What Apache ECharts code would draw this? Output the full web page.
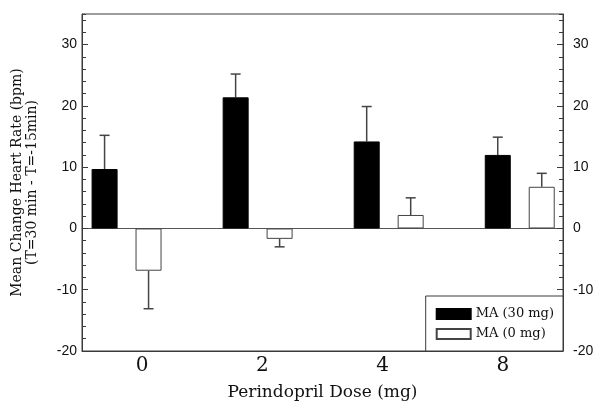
<!DOCTYPE html>
<html>
<head>
<meta charset="utf-8">
<script src="https://cdn.jsdelivr.net/npm/echarts@6/dist/echarts.min.js"></script>
<style>
  html, body { margin: 0; padding: 0; background: #fff; }
  #main { width: 600px; height: 418px; }
</style>
</head>
<body>
<div id="main"></div>
<script>
// doses (tick labels) and group positions
var doses = ['0', '2', '4', '8'];
var groupPos = [0, 1, 2, 3];
// mean change and SEM
var ma30 = [9.7, 21.4, 14.2, 12.0];
var ma30Err = [5.5, 3.8, 5.7, 2.9];
var ma0 = [-6.9, -1.7, 2.2, 6.8];
var ma0Err = [6.2, 1.3, 2.8, 2.2];
var yTicks = [-20, -10, 0, 10, 20, 30];

var lineCol = '#3a3a3a';
var textCol = '#111';
var serif = 'DejaVu Serif';
var sans = 'Liberation Sans';

function pairs(vals, errs) {
  return groupPos.map(function (p, i) { return [p, vals[i], errs[i]]; });
}

// one-sided error bar, shifted to the bar's own slot
function errBar(offset) {
  return function (params, api) {
    var x = api.value(0), v = api.value(1), e = api.value(2);
    var a = api.coord([x, v]);
    var b = api.coord([x, v >= 0 ? v + e : v - e]);
    var cx = a[0] + offset;
    var st = { stroke: '#444', lineWidth: 1.5 };
    return {
      type: 'group',
      children: [
        { type: 'line', shape: { x1: cx, y1: a[1], x2: cx, y2: b[1] }, style: st },
        { type: 'line', shape: { x1: cx - 5, y1: b[1], x2: cx + 5, y2: b[1] }, style: st }
      ]
    };
  };
}

function yAx(pos, major) {
  return {
    type: 'value', position: pos, min: -20, max: 35,
    interval: major ? 10 : 2,
    axisLine: { show: major, onZero: false, lineStyle: { color: lineCol, width: 1 } },
    axisTick: { show: true, inside: true, length: major ? 6 : 4, lineStyle: { color: lineCol } },
    axisLabel: {
      show: major, showMaxLabel: false, margin: pos === 'left' ? 5 : 10,
      color: textCol, fontFamily: sans, fontSize: 14,
      formatter: function (v) { return yTicks.indexOf(v) >= 0 ? String(v) : ''; }
    },
    splitLine: { show: false }
  };
}

var chart = echarts.init(document.getElementById('main'));
var yAxes = [yAx('left', true), yAx('left', false), yAx('right', true), yAx('right', false)];
yAxes[0].name = 'Mean Change Heart Rate (bpm)\n(T=30 min - T=-15min)';
yAxes[0].nameLocation = 'middle';
yAxes[0].nameGap = 42;
yAxes[0].nameTextStyle = { fontFamily: serif, fontSize: 14, color: textCol, lineHeight: 15 };

chart.setOption({
  animation: false,
  backgroundColor: '#fff',
  grid: { left: 82, right: 37, top: 14, bottom: 67, show: true, borderColor: lineCol, borderWidth: 1 },
  legend: {
    orient: 'vertical', right: 37, bottom: 67,
    padding: [11, 9, 10, 10],
    itemWidth: 34, itemHeight: 10, itemGap: 6,
    backgroundColor: '#fff', borderColor: lineCol, borderWidth: 1,
    icon: 'rect',
    textStyle: { fontFamily: serif, fontSize: 13, color: textCol, lineHeight: 14 },
    data: ['MA (30 mg)', 'MA (0 mg)'],
    z: 10
  },
  xAxis: [
    {
      type: 'category', data: doses, position: 'bottom',
      axisLine: { onZero: false, lineStyle: { color: lineCol } },
      axisTick: { show: false },
      axisLabel: { margin: 5, fontFamily: serif, fontSize: 20, color: textCol },
      name: 'Perindopril Dose (mg)', nameLocation: 'middle', nameGap: 33,
      nameTextStyle: { fontFamily: serif, fontSize: 17, color: textCol }
    },
    {
      // value axis for the bars; its line sits on y = 0
      type: 'value', min: -0.34, max: 3.33,
      axisLine: { show: true, onZero: true, onZeroAxisIndex: 0, lineStyle: { color: '#555', width: 1 } },
      axisTick: { show: false }, axisLabel: { show: false }, splitLine: { show: false }
    }
  ],
  yAxis: yAxes,
  series: [
    {
      name: 'MA (30 mg)', type: 'bar', xAxisIndex: 1, yAxisIndex: 0,
      data: pairs(ma30, ma30Err), barWidth: 26, barGap: '69%',
      itemStyle: { color: '#000', borderColor: '#000', borderWidth: 1 }
    },
    {
      name: 'MA (0 mg)', type: 'bar', xAxisIndex: 1, yAxisIndex: 0,
      data: pairs(ma0, ma0Err), barWidth: 26, barGap: '69%',
      itemStyle: { color: '#fff', borderColor: '#444', borderWidth: 1 }
    },
    {
      type: 'custom', xAxisIndex: 1, yAxisIndex: 0, renderItem: errBar(-22),
      data: pairs(ma30, ma30Err), z: 1
    },
    {
      type: 'custom', xAxisIndex: 1, yAxisIndex: 0, renderItem: errBar(22),
      data: pairs(ma0, ma0Err), z: 1
    }
  ]
});
</script>
</body>
</html>
